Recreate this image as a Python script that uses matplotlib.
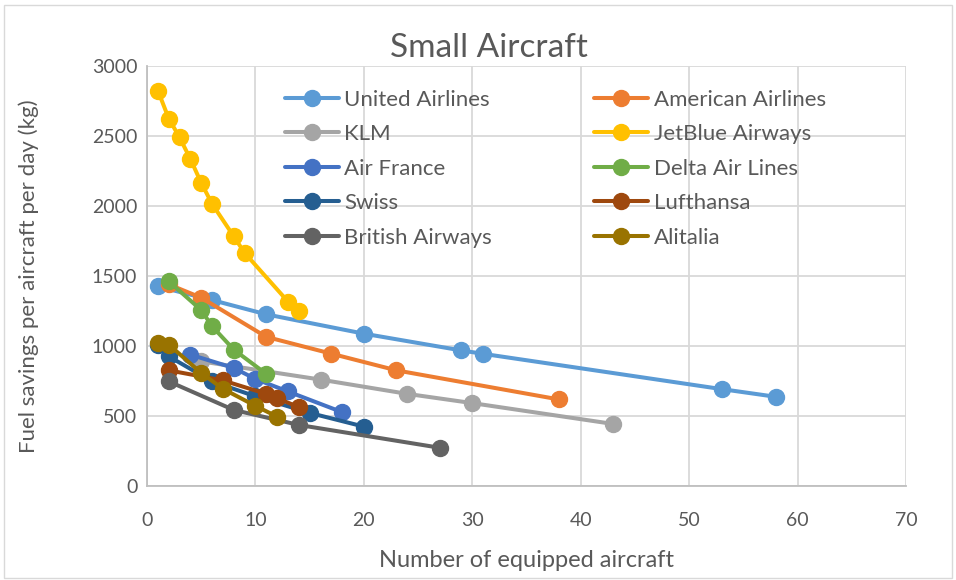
import matplotlib
matplotlib.use("Agg")
import matplotlib.pyplot as plt
from matplotlib.patches import Rectangle

plt.rcParams['font.family'] = ['Lato', 'DejaVu Sans']

# data
airlines = ["United Airlines", "American Airlines", "KLM", "JetBlue Airways",
            "Air France", "Delta Air Lines", "Swiss", "Lufthansa",
            "British Airways", "Alitalia"]
united_x = [1, 6, 11, 20, 29, 31, 53, 58]
united_y = [1425, 1328, 1226, 1088, 968, 944, 692, 637]
american_x = [2, 5, 11, 17, 23, 38]
american_y = [1440, 1345, 1065, 945, 826, 618]
klm_x = [5, 16, 24, 30, 43]
klm_y = [890, 760, 658, 592, 443]
jetblue_x = [1, 2, 3, 4, 5, 6, 8, 9, 13, 14]
jetblue_y = [2825, 2625, 2490, 2335, 2165, 2015, 1783, 1665, 1317, 1247]
airfrance_x = [4, 8, 10, 13, 18]
airfrance_y = [938, 843, 764, 675, 527]
delta_x = [2, 5, 6, 8, 11]
delta_y = [1462, 1256, 1141, 974, 800]
swiss_x = [1, 2, 6, 10, 15, 20]
swiss_y = [1010, 926, 747, 640, 522, 424]
lufthansa_x = [2, 7, 11, 12, 14]
lufthansa_y = [826, 754, 658, 627, 563]
british_x = [2, 8, 14, 27]
british_y = [747, 543, 436, 273]
alitalia_x = [1, 2, 5, 7, 10, 12]
alitalia_y = [1022, 1010, 807, 694, 572, 495]

colors = ["#5B9BD5", "#ED7D31", "#A5A5A5", "#FFC000", "#4472C4",
          "#70AD47", "#255E91", "#9E480E", "#636363", "#997300"]

series = [(united_x, united_y), (american_x, american_y), (klm_x, klm_y),
          (jetblue_x, jetblue_y), (airfrance_x, airfrance_y),
          (delta_x, delta_y), (swiss_x, swiss_y), (lufthansa_x, lufthansa_y),
          (british_x, british_y), (alitalia_x, alitalia_y)]

fig = plt.figure(figsize=(9.56, 5.8), dpi=100)
fig.patches.append(Rectangle((0.004, 0.004), 0.992, 0.988, transform=fig.transFigure,
                             fill=False, edgecolor="#D9D9D9", linewidth=1))
ax = fig.add_axes([0.1538, 0.1621, 0.7939, 0.7241])

handles = []
for name, (xs, ys), c in zip(airlines, series, colors):
    h, = ax.plot(xs, ys, color=c, linewidth=2.9, marker="o", markersize=11.5,
                 label=name, solid_capstyle="round")
    handles.append(h)

ax.set_xlim(0, 70)
ax.set_ylim(0, 3000)
ax.set_xticks(range(0, 71, 10))
ax.set_yticks(range(0, 3001, 500))
ax.grid(True, color="#D9D9D9", linewidth=1.3)
ax.set_axisbelow(True)
for s in ["top", "right"]:
    ax.spines[s].set_visible(False)
for s in ["left", "bottom"]:
    ax.spines[s].set_color("#BFBFBF")
    ax.spines[s].set_linewidth(1.3)
ax.tick_params(length=0, labelsize=14, colors="#595959")
ax.tick_params(axis="x", pad=19)
ax.tick_params(axis="y", pad=7)

# title is centred on the whole chart, not on the plot area
fig.text(0.5115, 0.917, "Small Aircraft", fontsize=24, color="#595959",
         ha="center", va="center")
ax.set_xlabel("Number of equipped aircraft", fontsize=17, color="#595959", labelpad=15)
ax.set_ylabel("Fuel savings per aircraft per day (kg)", fontsize=16, color="#595959", labelpad=38)

# legend: excel fills row by row, matplotlib column by column
order = [0, 2, 4, 6, 8, 1, 3, 5, 7, 9]
ax.legend([handles[i] for i in order], [airlines[i] for i in order],
          ncol=2, loc="upper left", bbox_to_anchor=(0.155, 0.991), frameon=False,
          fontsize=16, labelcolor="#595959", handlelength=2.43, handletextpad=0.25,
          columnspacing=4.6, labelspacing=0.65, markerscale=1.0)

fig.savefig("out.png", dpi=100)
